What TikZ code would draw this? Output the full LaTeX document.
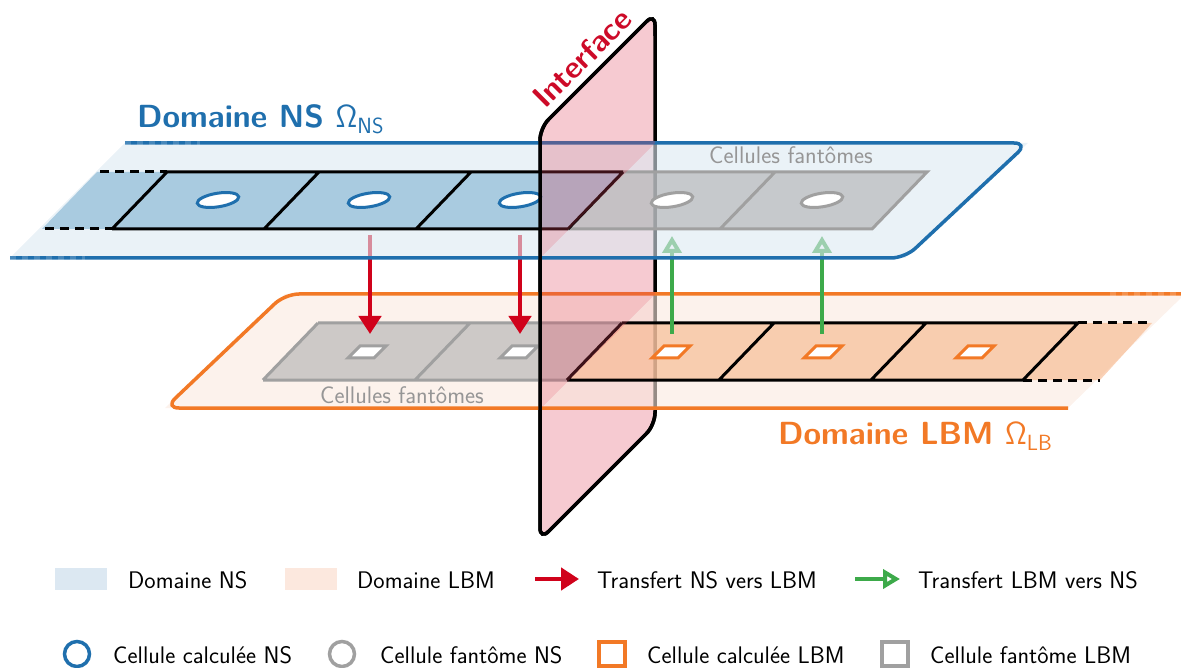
\documentclass[tikz,border=0pt]{standalone}
\usepackage{fontspec}
\usetikzlibrary{arrows.meta}
\definecolor{nsblue}{RGB}{31,111,173}
\definecolor{nsplane}{RGB}{220,233,242}
\definecolor{nscellfill}{RGB}{169,203,224}
\definecolor{lbmorange}{RGB}{242,121,38}
\definecolor{lbmplane}{RGB}{250,233,223}
\definecolor{lbmcellfill}{RGB}{247,180,136}
\definecolor{ghostgray}{RGB}{160,160,160}
\definecolor{ghostfill}{RGB}{175,175,175}
\definecolor{ghosttext}{RGB}{150,150,150}
\definecolor{ifpink}{RGB}{222,66,90}
\definecolor{ifred}{RGB}{205,10,40}
\definecolor{arrred}{RGB}{208,2,27}
\definecolor{arrgreen}{RGB}{61,170,74}
\definecolor{legblue}{RGB}{220,232,242}
\definecolor{legorange}{RGB}{252,232,222}
\tikzset{
  planeline/.style={line width=3.5pt},
  cellline/.style={line width=3pt,black},
  ghostline/.style={line width=3pt,ghostgray},
  ifline/.style={line width=3.5pt,black,rounded corners=12pt},
  iffill/.style={ifpink,opacity=0.28},
  fadeend/.style={white,opacity=0.18,line width=3.5pt,dash pattern=on 6pt off 6pt},
  dashext/.style={line width=3pt,black,dash pattern=on 9pt off 6pt},
  nsmark/.style={line width=3pt,draw=nsblue,fill=white},
  nsghostmark/.style={line width=3pt,draw=ghostgray,fill=white},
  lbmmark/.style={line width=3pt,draw=lbmorange,fill=white},
  lbmghostmark/.style={line width=3pt,draw=ghostgray,fill=white},
  redarrow/.style={line width=4.5pt,arrred,-{Triangle[width=22pt,length=18pt]}},
  greenarrow/.style={line width=4pt,arrgreen,-{Triangle[open,width=19pt,length=17pt,line width=4pt]}},
  title/.style={inner sep=0pt,anchor=base west,font=\sffamily\bfseries\fontsize{32}{36}\selectfont},
  legtext/.style={inner sep=0pt,anchor=base west},
  ghostlabel/.style={inner sep=0pt,anchor=base,text=ghosttext},
}
\begin{document}
\begin{tikzpicture}[x=1pt,y=-1pt,font=\sffamily\fontsize{24}{28}\selectfont]
\useasboundingbox (0,0) rectangle (1181,668);

% interface: parts lying behind the planes
\begin{scope}
  \clip[rounded corners=12pt] (540,128) -- (655,13) -- (655,425) -- (540,540) -- cycle;
  \fill[iffill,even odd rule] (0,0) rectangle (1181,668)
    (540,141) -- (657,141) -- (540,258) -- cycle
    (540,292) -- (657,292) -- (540,409) -- cycle;
\end{scope}
\draw[ifline] (540,128) -- (655,13) -- (655,425) -- (540,540) -- cycle;

% ---------------- LBM plane ----------------
\fill[lbmplane,opacity=0.6] (1185,294) -- (285,294) -- (165,408) -- (1068,408) -- cycle;
\draw[planeline,lbmorange,rounded corners=14pt] (1181,294) -- (285,294) -- (165,408) -- (1068,408);
\draw[fadeend] (1110,294) -- (1181,294);
% extension fill
\fill[lbmcellfill,opacity=0.6] (1078,323) -- (1152,323) -- (1100,380) -- (1023,380) -- cycle;
% ghost cells
\fill[ghostfill,opacity=0.6] (318,323) -- (622,323) -- (567,380) -- (263,380) -- cycle;
\draw[ghostline] (318,323) -- (622,323) (263,380) -- (567,380)
  (318,323) -- (263,380) (470,323) -- (415,380);
% computed cells
\fill[lbmcellfill,opacity=0.6] (622,323) -- (1078,323) -- (1023,380) -- (567,380) -- cycle;
\draw[cellline] (622,323) -- (1078,323) (567,380) -- (1023,380)
  (622,323) -- (567,380) (774,323) -- (719,380) (926,323) -- (871,380) (1078,323) -- (1023,380);
\draw[dashext] (1078,323) -- (1150,323);
\draw[dashext] (1023,380) -- (1100,380);
\foreach \c in {367,519} {
  \draw[lbmghostmark] ({\c-7},346) -- ({\c+19},346) -- ({\c+7},358) -- ({\c-19},358) -- cycle;
}
\foreach \c in {671,823,975} {
  \draw[lbmmark] ({\c-7},346) -- ({\c+19},346) -- ({\c+7},358) -- ({\c-19},358) -- cycle;
}
\node[ghostlabel] (glbm) at (402,403) {Cellules fantômes};

% ---------------- transfers ----------------
\coordinate (r1s) at (370,235);
\coordinate (r1e) at (370,334);
\coordinate (r2s) at (520,235);
\coordinate (r2e) at (520,334);
\coordinate (g1s) at (672,334);
\coordinate (g1e) at (672,236);
\coordinate (g2s) at (822,334);
\coordinate (g2e) at (822,236);
\draw[redarrow] (r1s) -- (r1e);
\draw[redarrow] (r2s) -- (r2e);
\draw[greenarrow] (g1s) -- (g1e);
\draw[greenarrow] (g2s) -- (g2e);

% ---------------- NS plane ----------------
\fill[nsplane,opacity=0.6] (125,143) -- (1028,143) -- (905,258) -- (10,258) -- cycle;
\draw[planeline,nsblue,rounded corners=14pt] (125,143) -- (1028,143) -- (905,258) -- (10,258);
\draw[fadeend] (125,143) -- (200,143);
\draw[fadeend] (10,258) -- (85,258);
% extension fill
\fill[nscellfill] (97,172) -- (167,172) -- (112,229) -- (42,229) -- cycle;
% ghost cells
\fill[ghostfill,opacity=0.6] (623,172) -- (927,172) -- (872,229) -- (568,229) -- cycle;
\draw[ghostline] (623,172) -- (927,172) -- (872,229) -- (568,229)
  (775,172) -- (720,229);
% computed cells
\fill[nscellfill] (167,172) -- (623,172) -- (568,229) -- (112,229) -- cycle;
\draw[cellline] (167,172) -- (623,172) (112,229) -- (568,229)
  (167,172) -- (112,229) (319,172) -- (264,229) (471,172) -- (416,229) (623,172) -- (568,229);
\draw[dashext] (100,172) -- (167,172);
\draw[dashext] (45,229) -- (112,229);
\foreach \c in {218,369,520} {
  \draw[nsmark] (\c,200) ellipse [x radius=21pt, y radius=6.8pt, rotate=9];
}
\foreach \c in {672,822} {
  \draw[nsghostmark] (\c,200) ellipse [x radius=21pt, y radius=6.8pt, rotate=9];
}
\node[ghostlabel] (gns) at (791,164) {Cellules fantômes};

% ---------------- interface: parts lying in front of the planes ----------------
\begin{scope}
  \clip[rounded corners=12pt] (540,128) -- (655,13) -- (655,425) -- (540,540) -- cycle;
  \fill[iffill] (540,141) -- (657,141) -- (540,258) -- cycle
    (540,292) -- (657,292) -- (540,409) -- cycle;
\end{scope}
\draw[ifline] (655,36) -- (655,13) -- (540,128) -- (540,540) -- (655,425) -- (655,411);
\node[rotate=45,text=ifred,font=\sffamily\bfseries\fontsize{31}{34}\selectfont] (iflabel) at (582,58) {Interface};

% ---------------- titles ----------------
\node[title,text=nsblue] (tns) at (137,128) {Domaine NS {\mdseries Ω\raisebox{-6pt}{\fontsize{22}{22}\selectfont NS}}};
\node[title,text=lbmorange] (tlbm) at (778,444) {Domaine LBM {\mdseries Ω\raisebox{-6pt}{\fontsize{22}{22}\selectfont LB}}};

% ---------------- legend ----------------
\fill[legblue] (55,568) rectangle (107,590);
\node[legtext] (l1) at (128,588) {Domaine NS};
\fill[legorange] (285,568) rectangle (337,590);
\node[legtext] (l2) at (357,588) {Domaine LBM};
\coordinate (lra) at (535,579);
\coordinate (lrb) at (579,579);
\draw[redarrow] (lra) -- (lrb);
\node[legtext] (l3) at (597,588) {Transfert NS vers LBM};
\coordinate (lga) at (855,579);
\coordinate (lgb) at (900,579);
\draw[greenarrow] (lga) -- (lgb);
\node[legtext] (l4) at (918,588) {Transfert LBM vers NS};

\draw[line width=3.5pt,nsblue] (77,654) circle [radius=12.5pt];
\node[legtext] (l5) at (113,663) {Cellule calculée NS};
\draw[line width=3.5pt,ghostgray] (342,654) circle [radius=12.5pt];
\node[legtext] (l6) at (380,663) {Cellule fantôme NS};
\draw[line width=3.5pt,lbmorange] (599,642) rectangle (625,666);
\node[legtext] (l7) at (647,663) {Cellule calculée LBM};
\draw[line width=3.5pt,ghostgray] (882,642) rectangle (908,666);
\node[legtext] (l8) at (930,663) {Cellule fantôme LBM};
\end{tikzpicture}
\end{document}
